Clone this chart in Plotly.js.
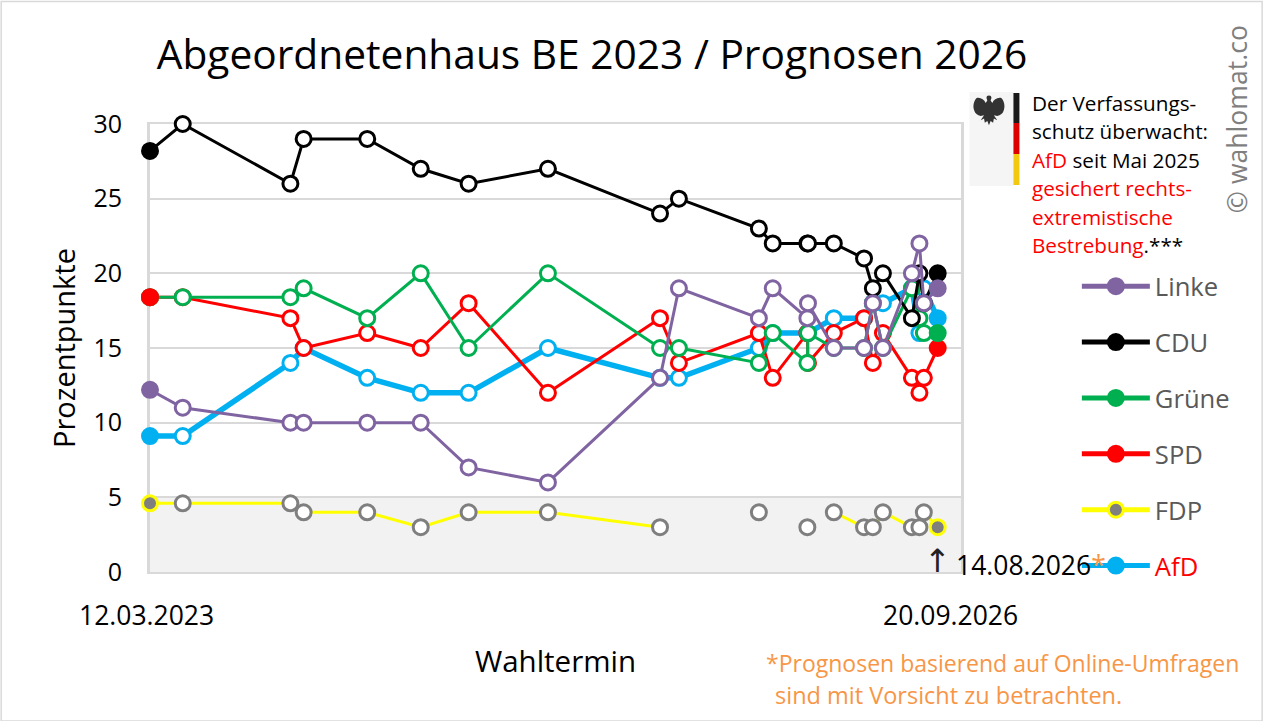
<!DOCTYPE html>
<html>
<head>
<meta charset="utf-8">
<script src="https://cdn.plot.ly/plotly-3.0.1.min.js"></script>
<style>html,body{margin:0;padding:0;background:#fff}</style>
</head>
<body>
<div id="chart" style="width:1264px;height:721px"></div>
<script>
const dates = ['2023-03-12','2023-05-03','2023-10-21','2023-11-11','2024-02-20','2024-05-15','2024-07-30','2024-12-03','2025-05-30','2025-06-29','2025-11-03','2025-11-25','2026-01-19','2026-01-20','2026-03-02','2026-04-19','2026-05-03','2026-05-19','2026-07-04','2026-07-16','2026-07-23','2026-08-14'];

const linke = [12.2,11,10,10,10,10,7,6,13,19,17,19,17,18,15,15,18,15,20,22,18,19];
const cdu   = [28.2,30,26,29,29,27,26,27,24,25,23,22,22,22,22,21,19,20,17,20,18,20];
const gruene= [18.4,18.4,18.4,19,17,20,15,20,15,15,14,16,14,16,15,15,18,15,19,17,16,16];
const spd   = [18.4,18.4,17,15,16,15,18,12,17,14,16,13,16,14,16,17,14,16,13,12,13,15];
const fdp   = [4.6,4.6,4.6,4,4,3,4,4,3,null,4,null,3,null,4,3,3,4,3,3,4,3];
const afd   = [9.1,9.1,14,15,13,12,12,15,13,13,15,16,16,16,17,17,18,18,19,16,19,17];

const yTicks = [0,5,10,15,20,25,30];
const xTickDates = ['2023-03-12','2026-09-20'];
const xTickLabels = ['12.03.2023','20.09.2026'];

const font = 'Open Sans, sans-serif';
const last = dates.length - 1;

function series(name, values, color, width, ring) {
    // first and last point are filled, the polls in between are open rings
    const isEnd = values.map((v, i) => i === 0 || i === last);
    return {
        x: dates, y: values, name: name, type: 'scatter', mode: 'lines+markers',
        showlegend: false, cliponaxis: false,
        line: {color: color, width: width},
        marker: {
            size: 15,
            color: isEnd.map(e => e ? (ring || color) : '#ffffff'),
            line: {width: 3, color: isEnd.map(e => e ? color : (ring || color))}
        }
    };
}

// legend keys have a heavier line than the chart, so they get their own empty traces
function key(name, label, color, fill) {
    return {
        x: [null], y: [null], name: label, legendgroup: name, type: 'scatter', mode: 'lines+markers',
        line: {color: color, width: 5},
        marker: {size: 15, color: fill || color, line: {width: 3, color: color}}
    };
}

const traces = [
    key('Linke', 'Linke', '#8064a2'),
    key('CDU', 'CDU', '#000000'),
    key('Grüne', 'Grüne', '#00b050'),
    key('SPD', 'SPD', '#ff0000'),
    key('FDP', 'FDP', '#ffff00', '#7f7f7f'),
    key('AfD', '<span style="color:#ff0000">AfD</span>', '#00b0f0'),
    series('AfD', afd, '#00b0f0', 5.5),
    series('FDP', fdp, '#ffff00', 3, '#7f7f7f'),
    series('SPD', spd, '#ff0000', 3),
    series('Grüne', gruene, '#00b050', 3),
    series('CDU', cdu, '#000000', 3),
    series('Linke', linke, '#8064a2', 3),
    // the SPD start dot sits on top of the Grüne one
    {x: [dates[0]], y: [spd[0]], type: 'scatter', mode: 'markers', showlegend: false, cliponaxis: false,
     marker: {size: 15, color: '#ff0000', line: {width: 3, color: '#ff0000'}}}
];

const eagle = 'data:image/svg+xml,' + encodeURIComponent(
    '<svg xmlns="http://www.w3.org/2000/svg" viewBox="0 0 40 40">' +
    '<path d="M20 3c-2 0-3 1-3 3l1 3-2 3c-2-4-6-7-11-6C2 9 0 15 2 21c1 4 4 6 8 7l4-1-4 6 4-2 1 5 3-2 2 5 2-5 3 2 1-5 4 2-4-6 4 1c4-1 7-3 8-7 2-6 0-12-3-15-5-1-9 2-11 6l-2-3 1-3c0-2-1-3-3-3z" fill="#333"/></svg>');

const layout = {
    width: 1264, height: 721,
    margin: {l: 149.5, r: 302.5, t: 123.7, b: 149.3},
    paper_bgcolor: '#ffffff', plot_bgcolor: '#ffffff',
    font: {family: font, color: '#000000', size: 24},
    title: {text: 'Abgeordnetenhaus BE 2023 / Prognosen 2026', font: {family: font, size: 40.7, color: '#000000'},
            x: 592/1264, xref: 'container', xanchor: 'center', y: 0.924, yanchor: 'middle'},
    xaxis: {
        type: 'date', range: xTickDates, showgrid: false, zeroline: false, layer: 'below traces',
        showline: true, linecolor: '#d9d9d9', linewidth: 2, mirror: true,
        showticklabels: false, ticks: '',
        title: {text: 'Wahltermin', font: {family: font, size: 29.5, color: '#000000'}, standoff: 78}
    },
    yaxis: {
        range: [0,30], tickvals: yTicks, gridcolor: '#d9d9d9', gridwidth: 2, zeroline: false, layer: 'below traces',
        showline: true, linecolor: '#d9d9d9', linewidth: 3, mirror: true,
        ticks: '', ticklabelstandoff: 20, tickfont: {family: font, size: 25, color: '#000000'},
        title: {text: 'Prozentpunkte', font: {family: font, size: 29, color: '#000000'}, standoff: 10}
    },
    showlegend: true,
    legend: {
        x: (1077 - 149) / 812, xanchor: 'left', y: (571 - 262) / 448, yanchor: 'top',
        itemwidth: 68, tracegroupgap: 19.6, traceorder: 'grouped', bgcolor: 'rgba(0,0,0,0)', borderwidth: 0,
        font: {family: font, size: 25.6, color: '#595959'}
    },
    shapes: [
        {type: 'rect', xref: 'x', yref: 'y', x0: xTickDates[0], x1: xTickDates[1], y0: 0, y1: 5, fillcolor: '#f2f2f2', line: {width: 0}, layer: 'below'}
    ],
    annotations: [],
    images: []
};

function px(x) { return (x - 149.5) / 812; }
function py(y) { return (571 - y) / 448; }

function label(x, y, text, size, color, anchor, extra) {
    layout.annotations.push(Object.assign({
        xref: 'paper', yref: 'paper', x: px(x), y: py(y), text: text, showarrow: false,
        xanchor: anchor || 'left', yanchor: 'middle', align: 'left',
        font: {family: font, size: size, color: color || '#000000'}
    }, extra || {}));
}

// x axis end labels sit slightly inside the date they name
xTickLabels.forEach((t, i) => {
    label(0, 614, t, 26.5, '#000000', 'center', {xref: 'x', x: xTickDates[i], xshift: i === 0 ? -4 : -11});
});

label(938, 560, '↑', 32, '#000000', 'center', {font: {family: 'DejaVu Sans', size: 32, color: '#222222'}});
label(954, 564, '14.08.2026<span style="color:#f79646">*</span>', 26.5);
label(764, 662, '*Prognosen basierend auf Online-Umfragen', 23, '#f79646');
label(773, 694, 'sind mit Vorsicht zu betrachten.', 23.5, '#f79646');
label(1238, 118, '© wahlomat.co', 26.6, '#7f7f7f', 'center', {textangle: -90});

const note = ['Der Verfassungs-', 'schutz überwacht:', '<span style="color:#ff0000">AfD</span> seit Mai 2025',
    '<span style="color:#ff0000">gesichert rechts-</span>', '<span style="color:#ff0000">extremistische</span>',
    '<span style="color:#ff0000">Bestrebung</span>.***'];
note.forEach((t, i) => label(1031, 102 + i * 28.4, t, 20.7));

// Bundesadler panel with the flag stripe
layout.shapes.push(
    {type: 'rect', xref: 'paper', yref: 'paper', x0: px(970), x1: px(1014), y0: py(185), y1: py(91), fillcolor: '#f5f5f5', line: {width: 0}, layer: 'below'},
    {type: 'rect', xref: 'paper', yref: 'paper', x0: px(1014), x1: px(1020), y0: py(122), y1: py(92), fillcolor: '#1a1a1a', line: {width: 0}},
    {type: 'rect', xref: 'paper', yref: 'paper', x0: px(1014), x1: px(1020), y0: py(153), y1: py(122), fillcolor: '#dd0000', line: {width: 0}},
    {type: 'rect', xref: 'paper', yref: 'paper', x0: px(1014), x1: px(1020), y0: py(184), y1: py(153), fillcolor: '#f2c811', line: {width: 0}},
    // outer frame of the picture
    {type: 'rect', xref: 'paper', yref: 'paper', x0: px(0.5), x1: px(1263), y0: py(720), y1: py(0.5), fillcolor: 'rgba(0,0,0,0)', line: {width: 1.5, color: '#d9d9d9'}}
);
layout.images.push({source: eagle, xref: 'paper', yref: 'paper', x: px(973), y: py(92), sizex: 33/812, sizey: 33/448, sizing: 'stretch', xanchor: 'left', yanchor: 'top', layer: 'above'});

Plotly.newPlot('chart', traces, layout, {displayModeBar: false, staticPlot: true});
</script>
</body>
</html>
